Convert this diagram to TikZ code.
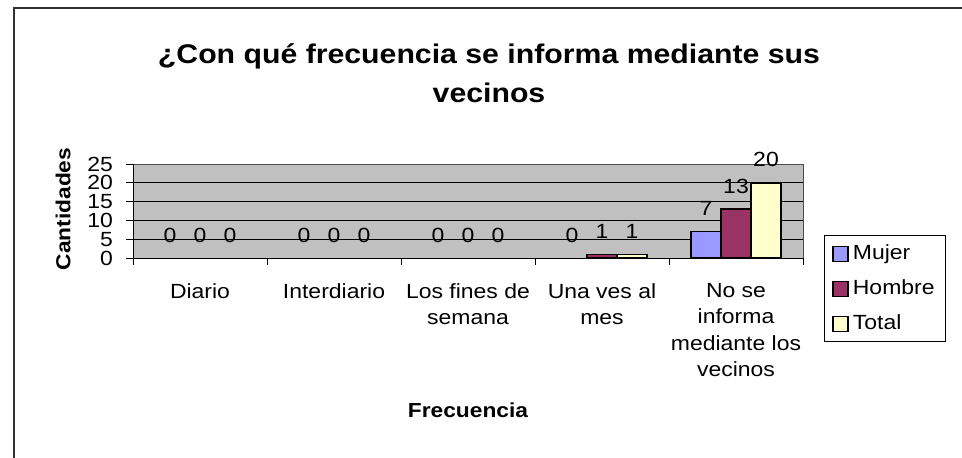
\documentclass[tikz,border=0pt]{standalone}
\usepackage{fontspec}
\setmainfont{Liberation Sans}[FakeStretch=1.12]
\usetikzlibrary{positioning}
\definecolor{mujer}{HTML}{9999FF}
\definecolor{hombre}{HTML}{993366}
\definecolor{total}{HTML}{FFFFCC}
\definecolor{plotgray}{HTML}{C0C0C0}

\begin{document}
\begin{tikzpicture}[x=1pt,y=-1pt]
		\tikzstyle{bar} = [draw, line width=1.4pt]
		\tikzstyle{gridline} = [draw, line width=0.8pt]
		\tikzstyle{axisline} = [draw, line width=0.9pt]
		\tikzstyle{plaintext} = [font=\fontsize{20.5}{26.5}\selectfont, inner sep=0pt]
		\tikzstyle{boldtext} = [font=\bfseries\fontsize{20.3}{24}\selectfont, inner sep=0pt]
		\tikzstyle{titletext} = [font=\bfseries\fontsize{27}{39}\selectfont, inner sep=0pt, align=center]
		\tikzstyle{legendkey} = [draw, line width=1.4pt, minimum size=15pt, inner sep=0pt]

		\useasboundingbox (0,0) rectangle (962,458);
		\draw[black!80, line width=1.3pt] (962,8) -- (14,8) -- (14,458);

		\node[titletext, anchor=base] (title) at (489,102) {¿Con qué frecuencia se informa mediante sus\\vecinos};

		\begin{scope}[shift={(133,258)}, x=1pt, y=3.76pt]
			\fill[plotgray] (0,0) rectangle (670,25);
			\foreach \v in {5,10,15,20}
				\draw[gridline] (0,\v) -- (670,\v);
			\draw[gray!60!black, line width=1pt] (0,25) -- (670,25) -- (670,0);

			\foreach \m/\h/\t/\name [count=\i from 0] in {0/0/0/Diario, 0/0/0/Interdiario, 0/0/0/{Los fines de\\semana}, 0/1/1/{Una ves al\\mes}, 7/13/20/{No se\\informa\\mediante los\\vecinos}} {
				\pgfmathsetmacro{\cx}{67+134*\i}
				\ifnum\m>0 \draw[bar, fill=mujer] (\cx-45,0) rectangle (\cx-15,\m); \fi
				\ifnum\h>0 \draw[bar, fill=hombre] (\cx-15,0) rectangle (\cx+15,\h); \fi
				\ifnum\t>0 \draw[bar, fill=total] (\cx+15,0) rectangle (\cx+45,\t); \fi
				\node[plaintext, anchor=base, yshift=16pt] (vm\i) at (\cx-30,\m) {\m};
				\node[plaintext, anchor=base, yshift=16pt] (vh\i) at (\cx,\h) {\h};
				\node[plaintext, anchor=base, yshift=16pt] (vt\i) at (\cx+30,\t) {\t};
				\node[plaintext, anchor=north, align=center, yshift=-25pt] (cat\i) at (\cx,0) {\name};
			}

			\draw[axisline] (0,25) -- (0,0) -- (670,0);
			\foreach \v in {0,5,...,25} {
				\draw[axisline] (0,\v) -- ++(-7pt,0);
				\node[plaintext, anchor=east, xshift=-20pt] (y\v) at (0,\v) {\v};
			}
			\foreach \i in {0,...,5}
				\draw[axisline] (134*\i,0) -- ++(0,-7pt);
		\end{scope}

		\node[boldtext, rotate=90] (ytitle) at (63,209) {Cantidades};
		\node[boldtext] (xtitle) at (468,410) {Frecuencia};

		\draw[line width=0.8pt] (824,235) rectangle (945,341);
		\node[legendkey, fill=mujer] (kmujer) at (840.5,254) {};
		\node[legendkey, fill=hombre] (khombre) at (840.5,289) {};
		\node[legendkey, fill=total] (ktotal) at (840.5,324) {};
		\node[plaintext, right=4pt of kmujer, anchor=mid west, yshift=-3pt] (tmujer) {Mujer};
		\node[plaintext, right=4pt of khombre, anchor=mid west, yshift=-3pt] (thombre) {Hombre};
		\node[plaintext, right=4pt of ktotal, anchor=mid west, yshift=-3pt] (ttotal) {Total};
	\end{tikzpicture}
\end{document}
